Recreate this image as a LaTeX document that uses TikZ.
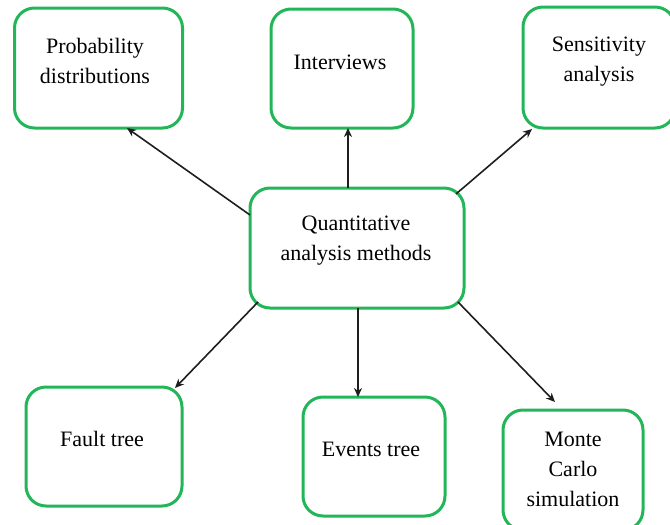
\documentclass[tikz,border=0pt]{standalone}
\usepackage{fontspec}
\setmainfont{Liberation Serif}
\usetikzlibrary{arrows.meta}
\definecolor{boxgreen}{RGB}{35,182,88}
\definecolor{arrowgray}{RGB}{30,30,30}
\tikzset{
  box/.style={draw=boxgreen, line width=3pt, rounded corners=20pt, fill=white, inner sep=0pt, outer sep=0pt},
  txt/.style={align=center, inner sep=0pt, font=\fontsize{22}{30}\selectfont, text=black},
  conn/.style={draw=arrowgray, line width=1.6pt, -{Stealth[length=9pt,width=8pt]}}
}
\begin{document}
\begin{tikzpicture}[x=1pt,y=-1pt]
\useasboundingbox (0,0) rectangle (670,525);
% boxes
\node[box, minimum width=168pt, minimum height=120pt] (p) at (98.5,68) {};
\node[box, minimum width=142pt, minimum height=119pt] (i) at (342,68.5) {};
\node[box, minimum width=152pt, minimum height=121pt] (s) at (599,67.5) {};
\node[box, minimum width=214pt, minimum height=120pt] (c) at (357,248) {};
\node[box, minimum width=156pt, minimum height=119pt] (f) at (104,446.5) {};
\node[box, minimum width=142pt, minimum height=119pt] (e) at (374,456.5) {};
\node[box, minimum width=140pt, minimum height=120pt] (m) at (573,470) {};
% texts
\node[txt] (pt) at (95,61) {Probability\\distributions};
\node[txt] (it) at (340,62) {Interviews};
\node[txt] (st) at (599,62) {Sensitivity\\analysis};
\node[txt] (ct) at (356,241) {Quantitative\\analysis methods};
\node[txt] (ft) at (102,439) {Fault tree};
\node[txt] (et) at (371,449) {Events tree};
\node[txt] (mt) at (573,469) {Monte\\Carlo\\simulation};
% connectors
\draw[conn] ([yshift=33pt]c.west) -- ([xshift=28.5pt]p.south);
\draw[conn] ([xshift=-9pt]c.north) -- ([xshift=6pt]i.south);
\draw[conn] ([xshift=-8pt,yshift=-6pt]c.north east) -- ([xshift=9pt,yshift=-1pt]s.south west);
\draw[conn] ([xshift=8pt,yshift=6pt]c.south west) -- ([xshift=-7pt,yshift=-1pt]f.north east);
\draw[conn] ([xshift=1pt]c.south) -- ([xshift=-16pt]e.north);
\draw[conn] ([xshift=-6pt,yshift=6pt]c.south east) -- ([xshift=-18pt,yshift=8pt]m.north);
\end{tikzpicture}
\end{document}
